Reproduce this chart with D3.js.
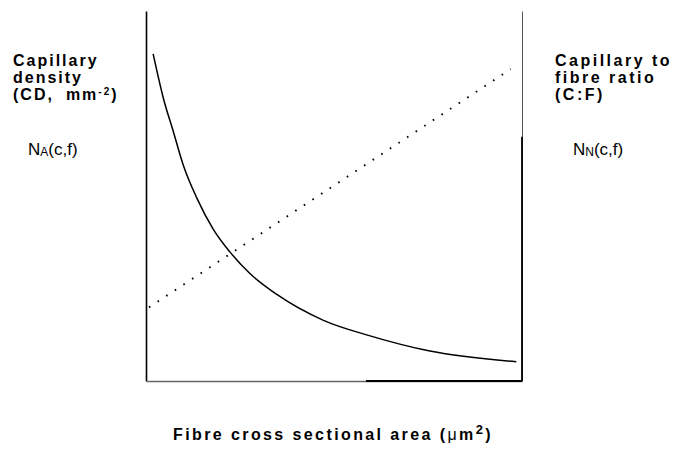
<!DOCTYPE html>
<html>
  <head>
    <meta charset="utf-8">
    <title>Capillary density and C:F vs fibre area</title>
    <script src="https://cdnjs.cloudflare.com/ajax/libs/d3/7.8.5/d3.min.js"></script>
    <style>
    body { margin: 0; background: #fff; }
    text { font-family: "Liberation Sans", Arial, Helvetica, sans-serif; fill: #000; }
    .lab { font-weight: bold; font-size: 16px; letter-spacing: 2px; }
    .sym { font-size: 17px; }
    </style>
  </head>
  <body>
    <svg width="681" height="450"></svg>
    <script>
      // fibre cross sectional area (arbitrary units, 0-100)
      var cdArea = [1.9, 4.6, 7.3, 9.9, 13.5, 17.9, 22.3, 27.7, 34.8, 47.2, 59.6, 75.5, 98.5];
      // capillary density, falls off like a hyperbola
      var cdValue = [88.4, 76.5, 67.3, 58.4, 49.5, 41.0, 34.9, 29.0, 23.4, 16.4, 12.2, 8.1, 5.2];
      // capillary to fibre ratio, straight line
      var cfArea = [0.8, 97.0];
      var cfValue = [19.9, 84.3];

      var svg = d3.select("svg");

      var x = d3.scaleLinear().domain([0, 100]).range([146, 522]);
      var y = d3.scaleLinear().domain([0, 100]).range([381, 11]);

      // frame: left, bottom and right lines, no ticks
      svg.append("g")
          .attr("transform", "translate(" + x(0) + ",0)")
          .call(d3.axisLeft(y).tickValues([]).tickSizeOuter(0))
          .select(".domain").attr("stroke", "#000").attr("stroke-width", 1.6);

      svg.append("g")
          .attr("transform", "translate(0," + y(0) + ")")
          .call(d3.axisBottom(x).tickValues([]).tickSizeOuter(0))
          .select(".domain").attr("stroke", "#666").attr("stroke-width", 1.3);

      svg.append("g")
          .attr("transform", "translate(" + x(100) + ",0)")
          .call(d3.axisRight(y).tickValues([]).tickSizeOuter(0))
          .select(".domain").attr("stroke", "#555").attr("stroke-width", 1);

      // darker stretches of the scanned frame
      svg.append("line")
          .attr("x1", x(58.5)).attr("x2", x(100))
          .attr("y1", y(0)).attr("y2", y(0))
          .attr("stroke", "#000").attr("stroke-width", 1.8);
      svg.append("line")
          .attr("x1", x(100)).attr("x2", x(100))
          .attr("y1", y(66)).attr("y2", y(0))
          .attr("stroke", "#000").attr("stroke-width", 1.8);

      var cdData = cdArea.map(function(a, i) { return [a, cdValue[i]]; });
      var cfData = cfArea.map(function(a, i) { return [a, cfValue[i]]; });

      var line = d3.line()
          .x(function(d) { return x(d[0]); })
          .y(function(d) { return y(d[1]); })
          .curve(d3.curveMonotoneX);

      svg.append("path")
          .datum(cdData)
          .attr("d", line)
          .attr("fill", "none")
          .attr("stroke", "#000")
          .attr("stroke-width", 1.5);

      svg.append("path")
          .datum(cfData)
          .attr("d", line)
          .attr("fill", "none")
          .attr("stroke", "#000")
          .attr("stroke-width", 1.9)
          .attr("stroke-dasharray", "1.6,8.7");

      // left label
      var left = svg.append("text").attr("class", "lab").attr("x", 13).attr("y", 66);
      left.append("tspan").attr("x", 13).text("Capillary");
      left.append("tspan").attr("x", 13).attr("dy", 16.5).text("density");
      left.append("tspan").attr("x", 13).attr("dy", 17).text("(CD,");
      left.append("tspan").attr("dx", 12).text("mm");
      left.append("tspan").attr("font-size", 10).attr("dy", -5).attr("dx", 0).text("-2");
      left.append("tspan").attr("dy", 5).text(")");

      var na = svg.append("text").attr("class", "sym").attr("x", 28).attr("y", 155);
      na.append("tspan").text("N");
      na.append("tspan").attr("font-size", 12).attr("dy", 1).text("A");
      na.append("tspan").attr("dy", -1).text("(c,f)");

      // right label
      var right = svg.append("text").attr("class", "lab").attr("x", 555).attr("y", 66)
          .style("letter-spacing", "2.5px");
      right.append("tspan").attr("x", 555).text("Capillary to");
      right.append("tspan").attr("x", 555).attr("dy", 16.5).text("fibre ratio");
      right.append("tspan").attr("x", 555).attr("dy", 17).text("(C:F)");

      var nn = svg.append("text").attr("class", "sym").attr("x", 573).attr("y", 155);
      nn.append("tspan").text("N");
      nn.append("tspan").attr("font-size", 12).attr("dy", 1).text("N");
      nn.append("tspan").attr("dy", -1).text("(c,f)");

      // x axis title
      var xt = svg.append("text").attr("class", "lab").attr("x", 173).attr("y", 440)
          .style("letter-spacing", "2.4px");
      xt.append("tspan").text("Fibre cross sectional area (");
      xt.append("tspan").attr("font-weight", "normal").text("\u03bc");
      xt.append("tspan").text("m");
      xt.append("tspan").attr("font-size", 13).attr("dy", -6).text("2");
      xt.append("tspan").attr("dy", 6).text(")");
    </script>
  </body>
</html>
